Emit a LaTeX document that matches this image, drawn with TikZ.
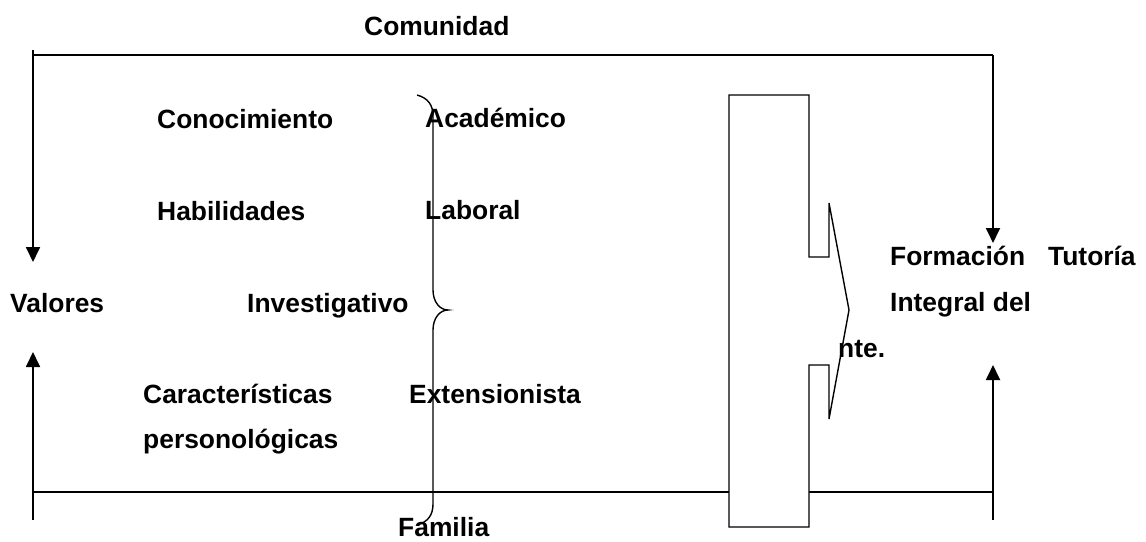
\documentclass[tikz,border=0pt]{standalone}
\usepackage{fontspec}
\setmainfont{Liberation Sans}
\usetikzlibrary{arrows.meta}
\begin{document}
\begin{tikzpicture}[x=1pt,y=-1pt,
  lbl/.style={inner sep=0pt, anchor=base west, font=\fontsize{26.4}{30}\selectfont\bfseries},
  ln/.style={line width=1.8pt},
  arr/.style={line width=1.8pt, -{Triangle[width=14pt,length=15pt]}},
  thin/.style={line width=1.4pt}]
\useasboundingbox (0,0) rectangle (1146,541);
% coordinates
\coordinate (tl) at (33,55);
\coordinate (tr) at (993,55);
\coordinate (lstart) at (33,50);
\coordinate (ldown) at (33,262);
\coordinate (rdown) at (993,243);
\coordinate (lbot) at (33,520);
\coordinate (lup) at (33,352);
\coordinate (rbot) at (993,520);
\coordinate (rup) at (993,365);
\coordinate (bl) at (33,492);
\coordinate (br) at (993,492);
% frame lines
\draw[ln] (tl) -- (tr);
\draw[ln] (bl) -- (br);
\draw[arr] (lstart) -- (ldown);
\draw[arr] (tr) -- (rdown);
\draw[arr] (lbot) -- (lup);
\draw[arr] (rbot) -- (rup);
% notched block arrow
\draw[thin, fill=white] (729,95) -- (809,95) -- (809,257) -- (829,257) -- (829,203)
  -- (849,310) -- (829,419) -- (829,365) -- (809,365) -- (809,527) -- (729,527) -- cycle;
% brace
\draw[thin] (417,95) .. controls (428,98) and (433,105) .. (433,116) -- (433,290)
  .. controls (433,302) and (440,310) .. (448,310)
  .. controls (440,310) and (433,318) .. (433,330) -- (433,504)
  .. controls (433,515) and (428,522) .. (417,525);
% labels
\node[lbl] (comunidad) at (364,35) {Comunidad};
\node[lbl] (conoc) at (157,128) {Conocimiento};
\node[lbl] (habil) at (157,220) {Habilidades};
\node[lbl] (valores) at (10,312) {Valores};
\node[lbl] (invest) at (247,312) {Investigativo};
\node[lbl] (caract) at (143,403) {Características};
\node[lbl] (person) at (143,448) {personológicas};
\node[lbl] (acad) at (425,127) {Académico};
\node[lbl] (laboral) at (425,219) {Laboral};
\node[lbl] (extens) at (409,403) {Extensionista};
\node[lbl] (familia) at (398,536) {Familia};
\node[lbl] (formacion) at (890,265) {Formación\hspace{23pt}Tutoría};
\node[lbl] (integral) at (890,311) {Integral del};
\node[lbl] (nte) at (838,357) {nte.};
\end{tikzpicture}
\end{document}
